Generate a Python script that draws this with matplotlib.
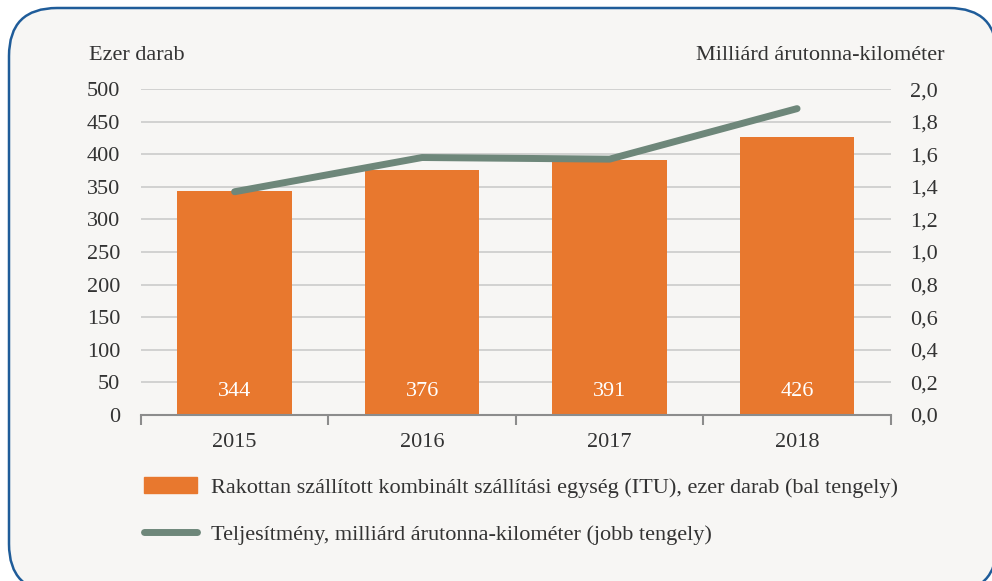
import matplotlib.pyplot as plt
from matplotlib.patches import FancyBboxPatch, Rectangle
from matplotlib.lines import Line2D

years = ["2015", "2016", "2017", "2018"]
itu = [344, 376, 391, 426]
tkm = [1.37, 1.58, 1.57, 1.88]
left_ticks = [0, 50, 100, 150, 200, 250, 300, 350, 400, 450, 500]
right_ticks = [0.0, 0.2, 0.4, 0.6, 0.8, 1.0, 1.2, 1.4, 1.6, 1.8, 2.0]

bg = "#F7F6F4"
orange = "#E8782E"
green = "#6E877A"
txt = "#333333"

plt.rcParams['font.family'] = ['Liberation Serif', 'DejaVu Serif']
plt.rcParams['font.size'] = 16

fig = plt.figure(figsize=(9.92, 5.81), dpi=100)
fig.patch.set_facecolor("white")

# background box, drawn in pixel units
bgax = fig.add_axes([0, 0, 1, 1], zorder=-1)
bgax.set_xlim(0, 992)
bgax.set_ylim(581, 0)
bgax.axis("off")
bgax.add_patch(FancyBboxPatch((9, 8), 988, 584, boxstyle="round,pad=0,rounding_size=48",
                              facecolor=bg, edgecolor="#1F5C99", lw=1.8))

ax = fig.add_axes([0.142, 0.2857, 0.756, 0.561])
ax.set_facecolor("none")
x = range(len(years))
ax.bar(x, itu, width=0.61, color=orange, zorder=2)
for i, v in enumerate(itu):
    ax.text(i, 36, str(v), ha="center", va="center", color="white", fontsize=16, zorder=3)
ax.set_xlim(-0.5, len(years) - 0.5)
ax.set_ylim(0, 500)
ax.set_yticks(left_ticks)
ax.set_yticklabels([str(t) for t in left_ticks], color=txt)
ax.yaxis.grid(True, color="#CBCBCB", lw=1.2, zorder=0)
ax.set_axisbelow(True)
ax.tick_params(axis="y", length=0, pad=15)
ax.set_xticks(x)
ax.set_xticklabels(years, color=txt)
ax.set_xticks([i - 0.5 for i in range(len(years) + 1)], minor=True)
ax.tick_params(axis="x", which="major", length=0, pad=13)
ax.tick_params(axis="x", which="minor", length=7, width=1.5, color="#8C8C8C", direction="out")
for s in ["top", "left", "right"]:
    ax.spines[s].set_visible(False)
ax.spines["bottom"].set_color("#8C8C8C")
ax.spines["bottom"].set_linewidth(1.5)

ax2 = ax.twinx()
ax2.plot(x, tkm, color=green, lw=5, solid_capstyle="round", zorder=4)
ax2.set_ylim(0, 2.0)
ax2.set_yticks(right_ticks)
ax2.set_yticklabels([f"{t:.1f}".replace(".", ",") for t in right_ticks], color=txt)
ax2.tick_params(axis="y", length=0, pad=14)
for s in ax2.spines.values():
    s.set_visible(False)

fig.text(0.09, 0.905, "Ezer darab", ha="left", va="center", color=txt)
fig.text(0.952, 0.905, "Milliárd árutonna-kilométer", ha="right", va="center", color=txt)

handles = [Rectangle((0, 0), 1, 1, color=orange),
           Line2D([0], [0], color=green, lw=5, solid_capstyle="round")]
labels = ["Rakottan szállított kombinált szállítási egység (ITU), ezer darab (bal tengely)",
          "Teljesítmény, milliárd árutonna-kilométer (jobb tengely)"]
fig.legend(handles, labels, loc="upper left", bbox_to_anchor=(0.134, 0.198), frameon=False,
           handlelength=2.4, handleheight=0.7, handletextpad=0.6, labelspacing=1.2,
           borderpad=0, labelcolor=txt)

fig.savefig("out.png", dpi=100, facecolor=fig.get_facecolor())
